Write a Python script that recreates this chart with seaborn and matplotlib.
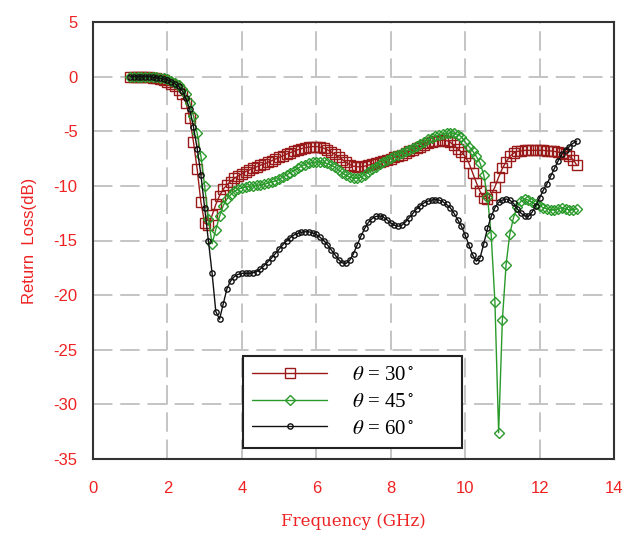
import numpy as np
import pandas as pd
import matplotlib
matplotlib.use("Agg")
import matplotlib.pyplot as plt
import seaborn as sns

# ---- data ----
freq_ghz = [round(1.0 + 0.1 * i, 1) for i in range(121)]

rl_30 = [
    0, 0, 0, 0, 0, -0.05, -0.1, -0.15, -0.2, -0.3,
    -0.45, -0.65, -0.9, -1.2, -1.6, -2.4, -3.8, -6.0, -8.5, -11.5,
    -13.4, -13.6, -12.7, -11.7, -10.9, -10.3, -9.9, -9.6, -9.3, -9.1,
    -8.9, -8.7, -8.55, -8.4, -8.25, -8.1, -8.0, -7.85, -7.7, -7.55,
    -7.4, -7.25, -7.1, -6.95, -6.85, -6.7, -6.6, -6.5, -6.45, -6.4,
    -6.4, -6.45, -6.55, -6.7, -6.9, -7.1, -7.35, -7.6, -7.85, -8.05,
    -8.2, -8.25, -8.25, -8.2, -8.1, -8.0, -7.9, -7.8, -7.7, -7.6,
    -7.5, -7.4, -7.3, -7.15, -7.0, -6.85, -6.7, -6.55, -6.4, -6.25,
    -6.1, -6.0, -5.9, -5.85, -5.8, -5.85, -6.0, -6.3, -6.6, -6.9,
    -7.3, -7.9, -8.8, -9.7, -10.5, -11.1, -11.2, -10.8, -10.1, -9.2,
    -8.4, -7.8, -7.3, -7.0, -6.85, -6.8, -6.75, -6.75, -6.75, -6.75,
    -6.75, -6.75, -6.8, -6.8, -6.85, -6.9, -7.0, -7.1, -7.3, -7.6,
    -8.1,
]

rl_45 = [
    0, 0, 0, 0, 0, 0, 0, -0.05, -0.1, -0.15,
    -0.25, -0.4, -0.55, -0.8, -1.1, -1.6, -2.4, -3.6, -5.2, -7.3,
    -10.0, -13.0, -15.3, -14.0, -12.8, -11.8, -11.2, -10.8, -10.5, -10.3,
    -10.2, -10.1, -10.05, -10.0, -9.95, -9.9, -9.85, -9.75, -9.65, -9.55,
    -9.4, -9.2, -9.0, -8.8, -8.6, -8.4, -8.2, -8.05, -7.95, -7.85,
    -7.8, -7.8, -7.85, -7.95, -8.1, -8.3, -8.55, -8.8, -9.05, -9.2,
    -9.3, -9.3, -9.2, -9.0, -8.75, -8.5, -8.25, -8.0, -7.8, -7.6,
    -7.45, -7.3, -7.15, -7.0, -6.85, -6.7, -6.55, -6.35, -6.15, -5.95,
    -5.75, -5.6, -5.45, -5.35, -5.25, -5.2, -5.15, -5.2, -5.3, -5.5,
    -6.0, -6.4, -6.8, -7.3, -7.9, -9.0, -11.0, -14.5, -20.6, -32.6,
    -22.3, -17.2, -14.4, -12.9, -11.9, -11.4, -11.2, -11.3, -11.5, -11.7,
    -11.8, -12.0, -12.1, -12.2, -12.2, -12.1, -12.0, -12.1, -12.2, -12.2,
    -12.1,
]

rl_60 = [
    0, 0, 0, 0, 0, 0, -0.05, -0.1, -0.15, -0.2,
    -0.3, -0.45, -0.65, -0.9, -1.3, -2.0, -3.0, -4.6, -6.6, -9.0,
    -12.0, -15.0, -18.0, -21.5, -22.2, -20.8, -19.4, -18.7, -18.3, -18.1,
    -18.0, -18.0, -18.0, -17.95, -17.85, -17.6, -17.3, -16.95, -16.6, -16.2,
    -15.8, -15.4, -15.05, -14.75, -14.5, -14.35, -14.25, -14.2, -14.2, -14.3,
    -14.45, -14.7, -15.0, -15.4, -15.85, -16.3, -16.75, -17.05, -17.1, -16.8,
    -16.2, -15.4, -14.6, -13.9, -13.35, -13.0, -12.8, -12.75, -12.85, -13.1,
    -13.4, -13.6, -13.7, -13.6, -13.3, -12.9, -12.5, -12.1, -11.8, -11.55,
    -11.4, -11.3, -11.25, -11.3, -11.45, -11.7, -12.0, -12.5, -13.1, -13.7,
    -14.5, -15.4, -16.3, -16.9, -16.6, -15.3, -13.9, -12.8, -12.0, -11.5,
    -11.3, -11.2, -11.3, -11.6, -12.1, -12.5, -12.75, -12.8, -12.4, -11.8,
    -11.1, -10.4, -9.8, -9.1, -8.4, -7.7, -7.1, -6.7, -6.4, -6.1,
    -5.9,
]

series_labels = [r"$\theta$ = 30$^\circ$", r"$\theta$ = 45$^\circ$", r"$\theta$ = 60$^\circ$"]
x_ticks = [0, 2, 4, 6, 8, 10, 12, 14]
y_ticks = [5, 0, -5, -10, -15, -20, -25, -30, -35]

# ---- styling ----
sns.set_style("white")
plt.rcParams["font.family"] = ["DejaVu Sans"]
plt.rcParams["axes.unicode_minus"] = False
plt.rcParams["mathtext.fontset"] = "stix"

fig = plt.figure(figsize=(6.24, 5.37), dpi=100)
ax = fig.add_axes([93 / 624, 1 - 459 / 537, 521 / 624, 437 / 537])

styles = [
    dict(color="#9a1a1a", marker="s", ms=6.5),
    dict(color="#2a9a2a", marker="D", ms=5.5),
    dict(color="#111111", marker="o", ms=3.8),
]

for vals, lab, st in zip([rl_30, rl_45, rl_60], series_labels, styles):
    df = pd.DataFrame({"f": freq_ghz, "rl": vals})
    sns.lineplot(data=df, x="f", y="rl", ax=ax, label=lab,
                 color=st["color"], linewidth=1.0,
                 marker=st["marker"], markersize=st["ms"],
                 markerfacecolor="none", markeredgecolor=st["color"],
                 markeredgewidth=1.0)

ax.set_xlim(0, 14)
ax.set_ylim(-35, 5)
ax.set_xticks(x_ticks)
ax.set_yticks(y_ticks)
ax.grid(True, color="#c4c4c4", linestyle=(0, (10, 4)), linewidth=1.4)
ax.set_axisbelow(True)
for sp in ax.spines.values():
    sp.set_color("#333333")
    sp.set_linewidth(1.5)

red = "#ee2222"
ax.tick_params(axis="both", length=0, colors=red, labelsize=12)
ax.tick_params(axis="x", pad=16)
ax.tick_params(axis="y", pad=11)
for t in ax.get_xticklabels() + ax.get_yticklabels():
    t.set_fontfamily(["Liberation Sans", "DejaVu Sans"])
    t.set_color(red)

ax.set_xlabel("Frequency (GHz)", color=red, fontsize=12,
              fontfamily=["DejaVu Serif"], labelpad=12)
ax.set_ylabel("Return  Loss(dB)", color=red, fontsize=12, labelpad=12,
              fontfamily=["Liberation Sans", "DejaVu Sans"])

leg = ax.legend(loc="lower left", bbox_to_anchor=(0.288, 0.025, 0.42, 0.236),
                mode="expand", frameon=True, fancybox=False,
                prop={"family": ["Liberation Serif", "DejaVu Serif"], "size": 15},
                handlelength=3.6, handletextpad=1.2, borderaxespad=0,
                labelspacing=0.35, borderpad=0.45)
leg.get_frame().set_edgecolor("#222222")
leg.get_frame().set_linewidth(1.5)
leg.get_frame().set_alpha(1)
for t in leg.get_texts():
    t.set_color("black")

fig.savefig("out.png", dpi=100)
